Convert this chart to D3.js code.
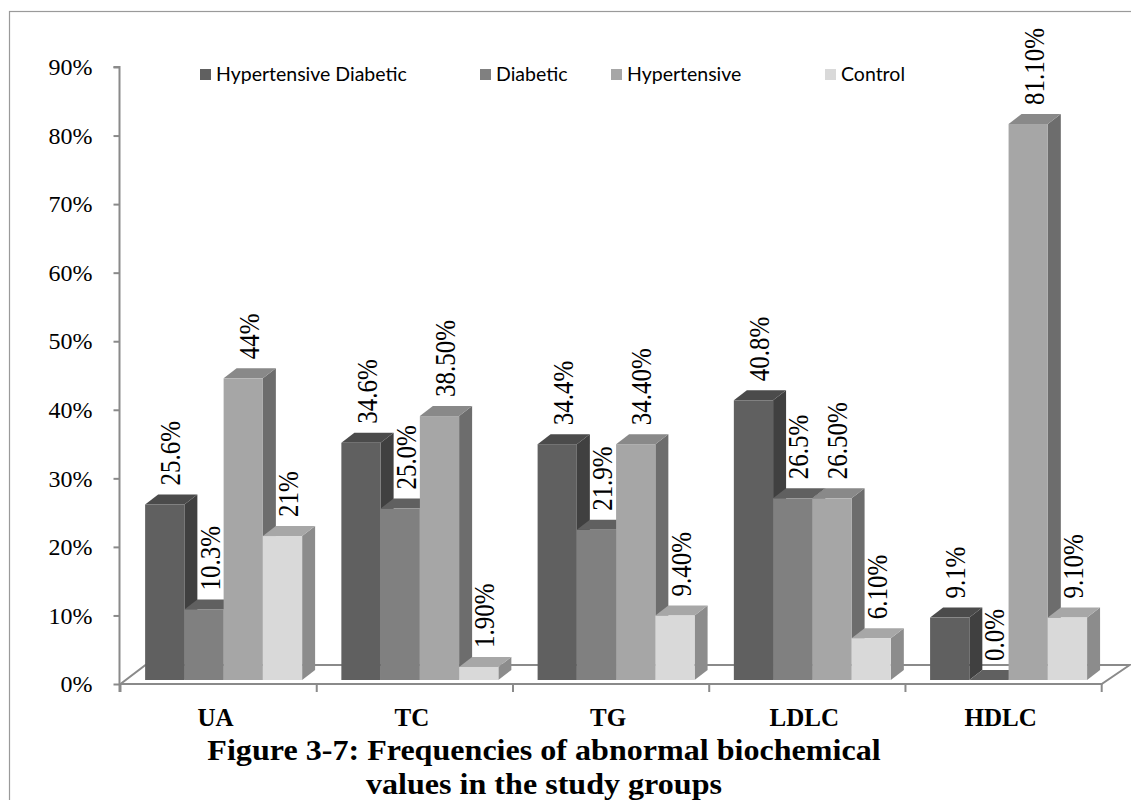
<!DOCTYPE html>
<html>
<head>
<meta charset="utf-8">
<script src="https://cdn.jsdelivr.net/npm/d3@7"></script>
<style>
  html, body { margin: 0; padding: 0; background: #ffffff; }
  svg { display: block; }
</style>
</head>
<body>
<svg id="chart" width="1131" height="800"></svg>
<script>
// Abnormal biochemical values by study group (percent)
const categories = ["UA", "TC", "TG", "LDLC", "HDLC"];
const seriesNames = ["Hypertensive Diabetic", "Diabetic", "Hypertensive", "Control"];

const hypDiabetic  = [25.6, 34.6, 34.4, 40.8, 9.1];
const diabetic     = [10.3, 25.0, 21.9, 26.5, 0.0];
const hypertensive = [44.0, 38.5, 34.4, 26.5, 81.1];
const control      = [21.0, 1.9, 9.4, 6.1, 9.1];

const hypDiabeticLabels  = ["25.6%", "34.6%", "34.4%", "40.8%", "9.1%"];
const diabeticLabels     = ["10.3%", "25.0%", "21.9%", "26.5%", "0.0%"];
const hypertensiveLabels = ["44%", "38.50%", "34.40%", "26.50%", "81.10%"];
const controlLabels      = ["21%", "1.90%", "9.40%", "6.10%", "9.10%"];

const yTickValues = [0, 10, 20, 30, 40, 50, 60, 70, 80, 90];
const yMax = 90;

const titleLines = ["Figure 3-7: Frequencies of abnormal biochemical", "values in the study groups"];

const seriesValues = [hypDiabetic, diabetic, hypertensive, control];
const seriesLabels = [hypDiabeticLabels, diabeticLabels, hypertensiveLabels, controlLabels];

// Face shades for each series: front, top, side
const shades = [
  { front: "#606060", top: "#4b4b4b", side: "#404040" },
  { front: "#808080", top: "#606060", side: "#585858" },
  { front: "#a6a6a6", top: "#898989", side: "#6d6d6d" },
  { front: "#d9d9d9", top: "#a7a7a7", side: "#8c8c8c" }
];

const svg = d3.select("#chart");

// Plot frame: front floor edge spans plotLeft..plotRight at y(0)
const plotLeft = 120.5, plotRight = 1101.7;
const y = d3.scaleLinear().domain([0, yMax]).range([684, 67]);
const x0 = d3.scaleBand().domain(categories).range([plotLeft, plotRight]).paddingInner(0).paddingOuter(0);
const x1 = d3.scaleBand().domain(seriesNames).range([0, x0.bandwidth()]).paddingInner(0).paddingOuter(0.5);

// Oblique projection offsets
const floorDepth = { dx: 28, dy: -19 };
const barFront   = { dx: 5,  dy: -4 };
const barDepth   = { dx: 13, dy: -10 };

const axisColor = "#8a8a8a";
const serif = "'Liberation Serif', 'Times New Roman', serif";

// Outer frame
svg.append("rect")
  .attr("x", 9.5).attr("y", 11.5)
  .attr("width", 1300).attr("height", 900)
  .attr("fill", "none").attr("stroke", "#9a9a9a").attr("stroke-width", 1.2);

// Floor
const y0 = y(0);
svg.append("path")
  .attr("d", d3.line()([
    [plotLeft, y0], [plotRight, y0],
    [plotRight + floorDepth.dx, y0 + floorDepth.dy],
    [plotLeft + floorDepth.dx - 3, y0 + floorDepth.dy]
  ]) + "Z")
  .attr("fill", "#ffffff").attr("stroke", axisColor).attr("stroke-width", 2);

// Value axis
const yAxis = d3.axisLeft(y)
  .tickValues(yTickValues)
  .tickSize(6)
  .tickPadding(21)
  .tickFormat(d => d + "%");

const yAxisG = svg.append("g")
  .attr("transform", `translate(${plotLeft - 1},0)`)
  .call(yAxis);
yAxisG.select(".domain").attr("stroke", axisColor).attr("stroke-width", 2)
  .attr("d", `M-6,${y(yMax)}H0V${y0 + 8}`);
yAxisG.selectAll(".tick line").attr("stroke", axisColor).attr("stroke-width", 2);
yAxisG.selectAll(".tick text")
  .attr("fill", "#000")
  .style("font-family", serif)
  .style("font-size", "24px");

// Category axis: ticks at category boundaries, labels centred in each band
const boundaries = categories.map(c => x0(c)).concat([x0.range()[1]]);
svg.append("g").selectAll("line")
  .data(boundaries)
  .join("line")
  .attr("x1", d => d).attr("x2", d => d)
  .attr("y1", y0).attr("y2", y0 + 8)
  .attr("stroke", axisColor).attr("stroke-width", 2);

svg.append("g").selectAll("text")
  .data(categories)
  .join("text")
  .attr("x", d => x0(d) + x0.bandwidth() / 2 - 3)
  .attr("y", 726)
  .attr("text-anchor", "middle")
  .style("font-family", serif)
  .style("font-size", "25px")
  .style("font-weight", "bold")
  .text(d => d);

// Bars (drawn left to right so neighbouring fronts cover hidden sides)
const bars = [];
categories.forEach((cat, ci) => {
  seriesNames.forEach((s, si) => {
    bars.push({
      cat, s, si,
      value: seriesValues[si][ci],
      label: seriesLabels[si][ci]
    });
  });
});

const w = x1.bandwidth();
const barG = svg.append("g");
bars.forEach(b => {
  const xl = x0(b.cat) + x1(b.s) + barFront.dx;
  const xr = xl + w;
  const yb = y0 + barFront.dy;
  const yt = y(b.value) + barFront.dy;
  const dx = barDepth.dx, dy = barDepth.dy;
  const sh = shades[b.si];
  const g = barG.append("g");
  // side face
  g.append("path")
    .attr("d", d3.line()([[xr, yb], [xr + dx, yb + dy], [xr + dx, yt + dy], [xr, yt]]) + "Z")
    .attr("fill", sh.side);
  // top face
  g.append("path")
    .attr("d", d3.line()([[xl, yt], [xl + dx, yt + dy], [xr + dx, yt + dy], [xr, yt]]) + "Z")
    .attr("fill", sh.top);
  // front face
  g.append("rect")
    .attr("x", xl).attr("y", yt)
    .attr("width", w).attr("height", Math.max(0, yb - yt))
    .attr("fill", sh.front);
  b.cx = xl + w / 2 + dx / 2 - 1;
  b.topBack = yt + dy;
});

// Value labels, rotated to read upwards
svg.append("g").selectAll("text")
  .data(bars)
  .join("text")
  .attr("transform", d => `translate(${d.cx},${d.topBack - 9}) scale(1.18,1) rotate(-90)`)
  .attr("dy", "0.34em")
  .attr("text-anchor", "start")
  .style("font-family", serif)
  .style("font-size", "25px")
  .attr("fill", "#000")
  .text(d => d.label);

// Legend
const legendX = [200, 480, 611, 825];
const legend = svg.append("g").selectAll("g")
  .data(seriesNames)
  .join("g")
  .attr("transform", (d, i) => `translate(${legendX[i]},69)`);
legend.append("rect")
  .attr("width", 11).attr("height", 11)
  .attr("fill", (d, i) => shades[i].front);
legend.append("text")
  .attr("x", 16).attr("y", 12)
  .style("font-family", "Lato, 'Open Sans', sans-serif")
  .style("font-size", "19.5px")
  .attr("fill", "#000")
  .text(d => d);

// Caption
svg.append("g").selectAll("text")
  .data(titleLines)
  .join("text")
  .attr("transform", (d, i) => `translate(544,${760 + i * 33.5}) scale(1.07,1)`)
  .attr("text-anchor", "middle")
  .style("font-family", serif)
  .style("font-size", "30px")
  .style("font-weight", "bold")
  .text(d => d);
</script>
</body>
</html>
